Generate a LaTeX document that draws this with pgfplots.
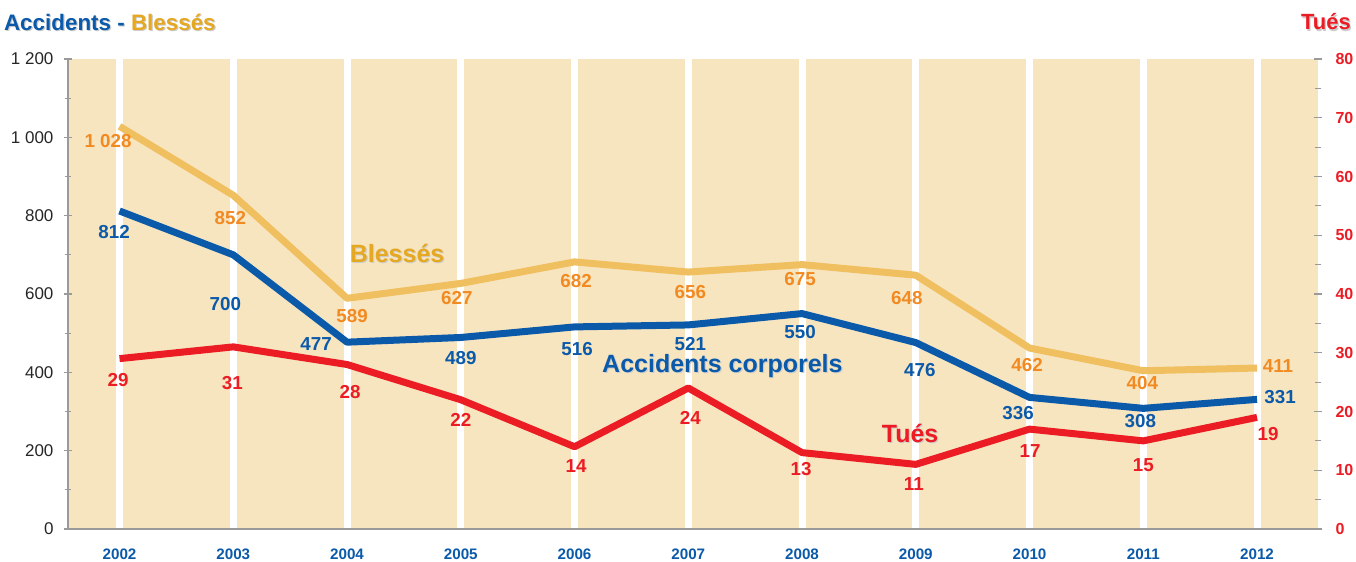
\documentclass[border=0pt]{standalone}
\usepackage{pgfplots}
\pgfplotsset{compat=1.18}
\usepackage{pgfplotstable}
\usepackage{fontspec}
\setmainfont{Liberation Sans}
\definecolor{beige}{HTML}{F7E5C0}
\definecolor{bl}{HTML}{0B5AAA}
\definecolor{rd}{HTML}{EC1C24}
\definecolor{blesline}{HTML}{F0C060}
\definecolor{beslab}{HTML}{F28A22}
\definecolor{gold}{HTML}{E5A823}
\definecolor{tickgray}{HTML}{9A9A9A}

% year value label-offset(dx,dy in pt)
\pgfplotstableread{
year val dx dy
2002 1028 -5.75 -7.3
2003 852 -1.5 -11.35
2004 589 2.5 -8.85
2005 627 -2 -7.3
2006 682 0.75 -9.5
2007 656 1 -10
2008 675 -1 -7.2
2009 648 -4.5 -11.5
2010 462 -1.25 -8.5
2011 404 -0.5 -6
2012 411 10.5 1
}\blesses
\pgfplotstableread{
year val dx dy
2002 812 -2.75 -10.5
2003 700 -4 -24.5
2004 477 -15.5 -1
2005 489 0 -10.25
2006 516 1.25 -11
2007 521 1 -9.5
2008 550 -1 -9.2
2009 476 2 -13.5
2010 336 -5.75 -7.8
2011 308 -1.5 -6.3
2012 331 11.5 1.2
}\accidents
\pgfplotstableread{
year val dx dy
2002 29 -0.75 -10.7
2003 31 -0.5 -18
2004 28 1.5 -13.75
2005 22 0 -10
2006 14 0.75 -9.5
2007 24 1 -15
2008 13 -0.5 -8.2
2009 11 -1 -9.8
2010 17 0.25 -11
2011 15 0 -12
2012 19 5.5 -8.3
}\tues

\begin{document}
\begin{tikzpicture}
\pgfplotsset{
 common/.style={scale only axis, width=625pt, height=235pt,
   xmin=2001.547, xmax=2012.536, clip=false,
   tick align=center, major tick length=4.5pt, minor tick length=3.5pt},
 lab/.style={nodes near coords={\pgfmathprintnumber[assume math mode=true,1000 sep={\ }]{\pgfplotspointmeta}},
   point meta=explicit,
   visualization depends on={\thisrow{dx}\as\mydx},
   visualization depends on={\thisrow{dy}\as\mydy},
   every node near coord/.append style={anchor=center, xshift=\mydx pt, yshift=\mydy pt,
     font=\fontsize{9.4}{10}\selectfont\bfseries}},
}
\begin{axis}[common,
 axis x line*=bottom, axis y line*=left,
 axis line style={-, tickgray, line width=0.8pt},
 ymin=0, ymax=1200,
 ytick={0,200,...,1200}, minor ytick={100,300,...,1100},
 yticklabels={0,200,400,600,800,1 000,1 200},
 xtick={2002,2003,2004,2005,2006,2007,2008,2009,2010,2011,2012},
 xticklabels={2002,2003,2004,2005,2006,2007,2008,2009,2010,2011,2012},
 axis background/.style={fill=beige},
 xmajorgrids, major x grid style={white, line width=3.5pt},
 xtick style={draw=none},
 ytick style={tickgray, line width=0.6pt},
 yticklabel style={font=\fontsize{8.5}{10}\selectfont, text=black!85, xshift=-1.5pt},
 xticklabel style={font=\fontsize{7.6}{9}\selectfont\bfseries, text=bl, yshift=-4pt},
]
\addplot[blesline, line width=3.5pt, line join=round, lab, every node near coord/.append style={text=beslab}]
  table[x=year, y=val, meta=val] {\blesses};
\addplot[bl, line width=3.5pt, line join=round, lab, every node near coord/.append style={text=bl}]
  table[x=year, y=val, meta=val] {\accidents};
\node[font=\fontsize{12.5}{14}\selectfont\bfseries, text=gray!40] at ([xshift=0.6pt,yshift=-0.6pt]axis cs:2004.44,704.7) {Blessés};
\node[font=\fontsize{12.5}{14}\selectfont\bfseries, text=gold] at (axis cs:2004.44,704.7) {Blessés};
\node[font=\fontsize{12.5}{14}\selectfont\bfseries, text=gray!40] at ([xshift=0.6pt,yshift=-0.6pt]axis cs:2007.30,416.2) {Accidents corporels};
\node[font=\fontsize{12.5}{14}\selectfont\bfseries, text=bl] at (axis cs:2007.30,416.2) {Accidents corporels};
\node[font=\fontsize{12.5}{14}\selectfont\bfseries, text=gray!40] at ([xshift=0.6pt,yshift=-0.6pt]axis cs:2008.95,245.1) {Tués};
\node[font=\fontsize{12.5}{14}\selectfont\bfseries, text=rd] at (axis cs:2008.95,245.1) {Tués};
\end{axis}
\begin{axis}[common,
 axis x line=none, axis y line*=right,
 y axis line style={draw=none},
 ymin=0, ymax=80,
 ytick={0,10,...,80}, minor ytick={5,15,...,75},
 ytick style={tickgray, line width=0.6pt},
 yticklabel style={font=\fontsize{8}{10}\selectfont\bfseries, text=rd, xshift=3pt,
   /pgf/number format/assume math mode=true},
]
\addplot[rd, line width=3.5pt, line join=round, lab, every node near coord/.append style={text=rd}]
  table[x=year, y=val, meta=val] {\tues};
\end{axis}
\node[anchor=west, font=\fontsize{11.2}{13}\selectfont\bfseries, text=gray!40] at (-34.9pt,252.9pt) {Accidents - Blessés};
\node[anchor=west, font=\fontsize{11.2}{13}\selectfont\bfseries] at (-35.5pt,253.5pt) {\textcolor{bl}{Accidents -} \textcolor{gold}{Blessés}};
\node[font=\fontsize{11}{13}\selectfont\bfseries, text=gray!40] at (629.6pt,252.9pt) {Tués};
\node[font=\fontsize{11}{13}\selectfont\bfseries, text=rd] at (629pt,253.5pt) {Tués};
\pgfresetboundingbox
\useasboundingbox (-34pt,-16.5pt) rectangle (644pt,264.5pt);
\end{tikzpicture}
\end{document}
